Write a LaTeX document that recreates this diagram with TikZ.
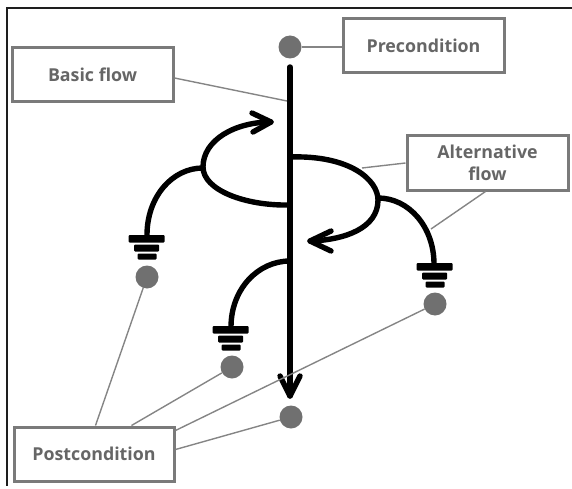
\documentclass[tikz,border=0pt]{standalone}
\usepackage{fontspec}
\setmainfont{Open Sans}
\usetikzlibrary{calc}
\definecolor{boxgray}{HTML}{7A7A7A}
\definecolor{txtgray}{HTML}{666666}
\definecolor{dotgray}{HTML}{707070}
\definecolor{linegray}{HTML}{858585}
\definecolor{framegray}{HTML}{1E1E1E}
\tikzset{
  lbl/.style={draw=boxgray, line width=3pt, fill=white, text=txtgray,
    font=\bfseries\fontsize{17.8}{22.5}\selectfont, inner sep=0pt, align=center,
    minimum width=161pt, minimum height=54pt},
  dotnode/.style={circle, fill=dotgray, minimum size=23pt, inner sep=0pt},
  flow/.style={line width=5.4pt, line cap=round, line join=round},
  tie/.style={draw=linegray, line width=1.4pt},
  barA/.style={fill=black, rounded corners=1pt},
}
\begin{document}
\begin{tikzpicture}[x=1pt, y=-1pt]
\useasboundingbox (0,0) rectangle (572,489);
% frame
\draw[framegray, line width=1.5pt] (572,8) -- (7,8) -- (7,486);

% boxes
\node[lbl] (prebox) at (423.5,45.5) {Precondition};
\node[lbl] (basic) at (92.5,75) {Basic flow};
\node[lbl] (alt) at (487.5,163) {Alternative\\flow};
\node[lbl, minimum width=160pt] (post) at (94,454) {Postcondition};

% dots
\node[dotnode] (pre) at (290,47) {};
\node[dotnode] (ul) at (147,277) {};
\node[dotnode] (ll) at (232,367) {};
\node[dotnode] (rd) at (435,304) {};
\node[dotnode] (bot) at (291,417) {};

% coordinates on the flows
\coordinate (mtop) at (290,67);
\coordinate (mtip) at (290,396);
\coordinate (bfjoin) at (287,101);
\coordinate (altjoinA) at (362,168);
\coordinate (altjoinB) at (431,229);

% main flow
\draw[flow] (mtop) -- (mtip);
\draw[flow] (280,376) -- (mtip) -- (300,376);

% upper-left loop
\draw[flow] (290,205) .. controls (245,206) and (203,190) .. (203,167)
  .. controls (203,140) and (235,122) .. (271,122);
\draw[flow] (252,113) -- (271,122) -- (253,132);
% left branch
\draw[flow] (203,168) .. controls (172,168) and (147,197) .. (147,235);

% right loop
\draw[flow] (290,157) .. controls (350,155) and (378,180) .. (378,200)
  .. controls (378,228) and (345,240) .. (310,241);
\draw[flow] (331,231) -- (310,241) -- (331,251);
% right branch
\draw[flow] (378,198) .. controls (409,198) and (434,227) .. (434,264);

% lower-left branch
\draw[flow] (290,261) .. controls (258,261) and (231,289) .. (231,327);

% plugs
\fill[barA] (128.5,235) rectangle (164.5,242.5);
\fill[barA] (134,244.5) rectangle (159,251.5);
\fill[barA] (137.5,253.5) rectangle (156.5,259.5);

\fill[barA] (416.5,263) rectangle (452.5,270.5);
\fill[barA] (422,272.5) rectangle (447,279.5);
\fill[barA] (425.5,281.5) rectangle (444.5,287.5);

\fill[barA] (212.5,326) rectangle (248.5,333.5);
\fill[barA] (218,335.5) rectangle (243,342.5);
\fill[barA] (221.5,344.5) rectangle (240.5,350.5);

% ties
\draw[tie] (pre.east) -- (prebox.west |- pre.east);
\draw[tie] ($(basic.east)+(0,3)$) -- (bfjoin);
\draw[tie] (alt.west) -- (altjoinA);
\draw[tie] ($(alt.south west)+(80,0)$) -- (altjoinB);
\draw[tie] ($(post.north west)+(83,0)$) -- (ul);
\draw[tie] ($(post.north west)+(119,0)$) -- (ll);
\draw[tie] ($(post.north east)+(0,5)$) -- (rd);
\draw[tie] ($(post.north east)+(0,24)$) -- (bot);
\end{tikzpicture}
\end{document}
